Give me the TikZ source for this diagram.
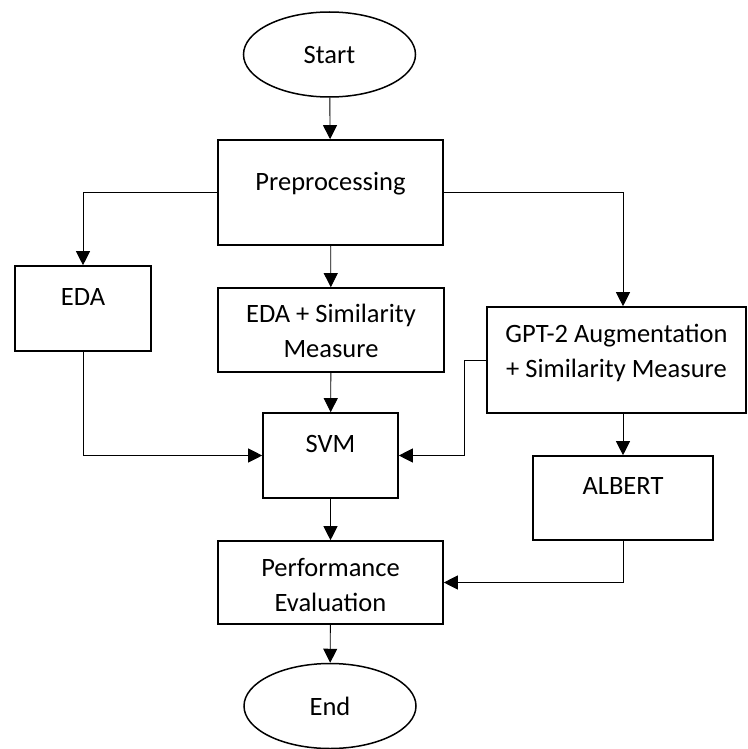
\documentclass[tikz,border=0pt]{standalone}
\usepackage{fontspec}
\setmainfont{Carlito}
\usetikzlibrary{arrows.meta,shapes.geometric,positioning}
\tikzset{
  flowbox/.style={draw, line width=1.6pt, line join=miter, inner sep=0pt},
  termnode/.style={draw, ellipse, line width=1.5pt, inner sep=0pt, minimum width=172pt, minimum height=85pt},
  boxtext/.style={inner sep=0pt, anchor=base, align=center},
  link/.style={line width=0.9pt, -{Triangle[length=14pt,width=14pt]}}
}
\begin{document}
\begin{tikzpicture}[line cap=round,x=1pt,y=-1pt,font=\fontsize{26.5}{35}\selectfont]
\useasboundingbox (0,0) rectangle (747,749);
% terminals
\node[termnode] (start) at (329.5,54.5) {Start};
\node[termnode] (end) at (330,706) {End};
% boxes
\node[flowbox,minimum width=225pt,minimum height=105pt] (pre) at (330.5,192.5) {};
\node[flowbox,minimum width=136pt,minimum height=85pt] (eda) at (83,308.5) {};
\node[flowbox,minimum width=226pt,minimum height=84pt] (edasim) at (331,330) {};
\node[flowbox,minimum width=259pt,minimum height=106pt] (gpt) at (616.5,360) {};
\node[flowbox,minimum width=135pt,minimum height=85pt] (svm) at (330.5,455.5) {};
\node[flowbox,minimum width=180pt,minimum height=84pt] (albert) at (623,498) {};
\node[flowbox,minimum width=225pt,minimum height=83pt] (perf) at (330.5,582.5) {};
% texts (base = last line)
\node[boxtext] (pre-t) at ([yshift=-51pt]pre.north) {Preprocessing};
\node[boxtext] (eda-t) at ([yshift=-40pt]eda.north) {EDA};
\node[boxtext] (edasim-t) at ([yshift=-70pt]edasim.north) {EDA + Similarity\\Measure};
\node[boxtext] (gpt-t) at ([yshift=-71pt]gpt.north) {GPT-2 Augmentation\\+ Similarity Measure};
\node[boxtext] (svm-t) at ([yshift=-40pt]svm.north) {SVM};
\node[boxtext] (albert-t) at ([yshift=-39pt]albert.north) {ALBERT};
\node[boxtext] (perf-t) at ([yshift=-71pt]perf.north) {Performance\\Evaluation};
% connectors
\draw[link] (start) -- (pre);
\draw[link] (pre.west) -| (eda.north);
\draw[link] (pre) -- (edasim);
\draw[link] (pre.east) -| (gpt.north -| albert.north);
\draw[link] (edasim) -- (svm);
\draw[link] (eda.south) |- (svm.west);
\draw[link] (gpt.west) -- ++(-22,0) |- (svm.east);
\draw[link] (gpt.south -| albert.north) -- (albert.north);
\draw[link] (svm) -- (perf);
\draw[link] (albert.south) |- (perf.east);
\draw[link] (perf) -- (end);
\end{tikzpicture}
\end{document}
